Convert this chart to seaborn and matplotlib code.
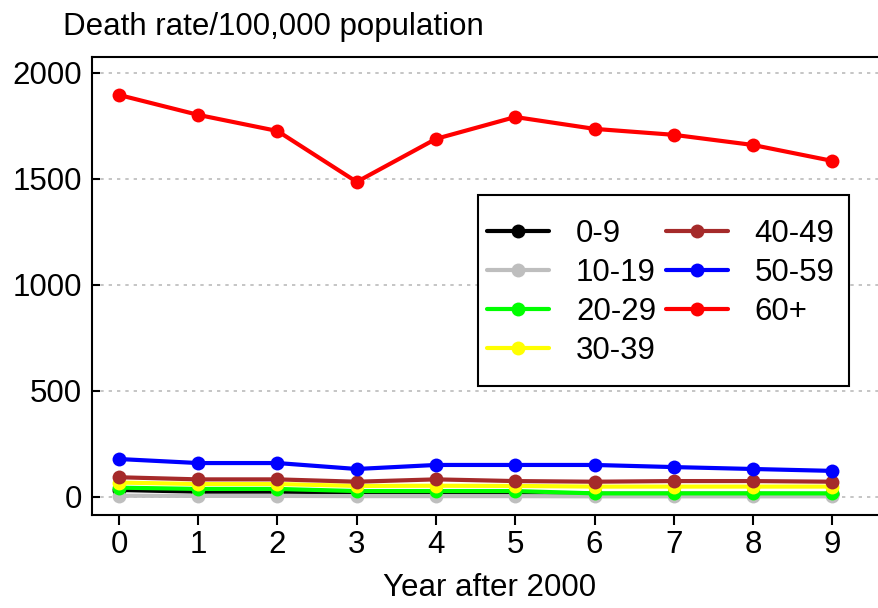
import numpy as np
import pandas as pd
import matplotlib
matplotlib.use("Agg")
import matplotlib.pyplot as plt
from matplotlib.patches import Rectangle
import seaborn as sns

# values (deaths per 100,000)
years = [0, 1, 2, 3, 4, 5, 6, 7, 8, 9]
groups = ["0-9", "10-19", "20-29", "30-39", "40-49", "50-59", "60+"]
age_0_9 = [33, 25, 25, 22, 22, 20, 15, 15, 15, 14]
age_10_19 = [6, 5, 5, 4, 4, 4, 3, 3, 3, 3]
age_20_29 = [44, 38, 38, 28, 28, 28, 17, 17, 17, 17]
age_30_39 = [68, 61, 61, 52, 53, 52, 49, 49, 49, 49]
age_40_49 = [93, 83, 83, 72, 83, 75, 72, 75, 75, 72]
age_50_59 = [179, 160, 160, 132, 151, 151, 151, 141, 132, 123]
age_60_plus = [1896, 1802, 1726, 1486, 1689, 1792, 1736, 1708, 1660, 1585]
colors = ["black", "#bebebe", "#00ff00", "#ffff00", "#a52a2a", "#0000ff", "#ff0000"]

series = [age_0_9, age_10_19, age_20_29, age_30_39, age_40_49, age_50_59, age_60_plus]
df = pd.DataFrame({
    "year": years * len(groups),
    "rate": np.concatenate(series),
    "group": np.repeat(groups, len(years)),
})

sns.set_style("white")
plt.rcParams["font.family"] = ["Liberation Sans", "DejaVu Sans"]
plt.rcParams["text.color"] = "black"
plt.rcParams["xtick.color"] = "black"
plt.rcParams["ytick.color"] = "black"
plt.rcParams["axes.labelcolor"] = "black"

fs = 22.5
W, H = 879, 608
fig = plt.figure(figsize=(8.79, 6.08), dpi=100)
ax = fig.add_axes([92 / W, 1 - 515 / H, 1 - 92 / W + 0.01, (515 - 57) / H])

sns.lineplot(data=df, x="year", y="rate", hue="group", hue_order=groups,
             palette=colors, marker="o", markersize=10, markeredgewidth=0,
             linewidth=3.0, ax=ax, legend=False)

ax.set_xlim(-0.34, 9.7)
ax.set_ylim(-85, 2075)
ax.set_xticks(years)
ax.set_yticks([0, 500, 1000, 1500, 2000])
ax.yaxis.grid(True, linestyle=(0, (2, 3)), color="#bbbbbb", linewidth=1.2)
ax.set_axisbelow(True)
ax.tick_params(axis="x", direction="out", length=7.5, width=1.5, labelsize=fs,
               bottom=True, pad=3)
ax.tick_params(axis="y", direction="in", length=5.5, width=1.5, labelsize=fs,
               left=True, pad=7)
for side in ["left", "bottom", "top"]:
    ax.spines[side].set_color("black")
    ax.spines[side].set_linewidth(1.5)
ax.spines["right"].set_visible(False)
ax.set_xlabel("Year after 2000", fontsize=fs, labelpad=10)
ax.set_ylabel("")

fig.text(63 / W, 1 - 27 / H, "Death rate/100,000 population", fontsize=fs,
         ha="left", va="center")

# legend box (white, black border) with a frameless legend on top
ax.add_patch(Rectangle((478 / W, 1 - 386 / H), 371 / W, 191 / H,
                       transform=fig.transFigure, facecolor="white",
                       edgecolor="black", linewidth=1.5, zorder=4.5,
                       clip_on=False))
handles = [plt.Line2D([], [], color=c, marker="o", markersize=10, markeredgewidth=0,
                      linewidth=3.0) for c in colors]
leg = fig.legend(handles, groups, ncol=2, fontsize=fs, loc="upper left",
                 bbox_to_anchor=(487 / W, 1 - 219 / H),
                 frameon=False, handlelength=2.0, columnspacing=0.3,
                 labelspacing=0.29, borderpad=0, handletextpad=0.85,
                 borderaxespad=0)
leg.set_zorder(5)

fig.savefig("out.png", dpi=100)
